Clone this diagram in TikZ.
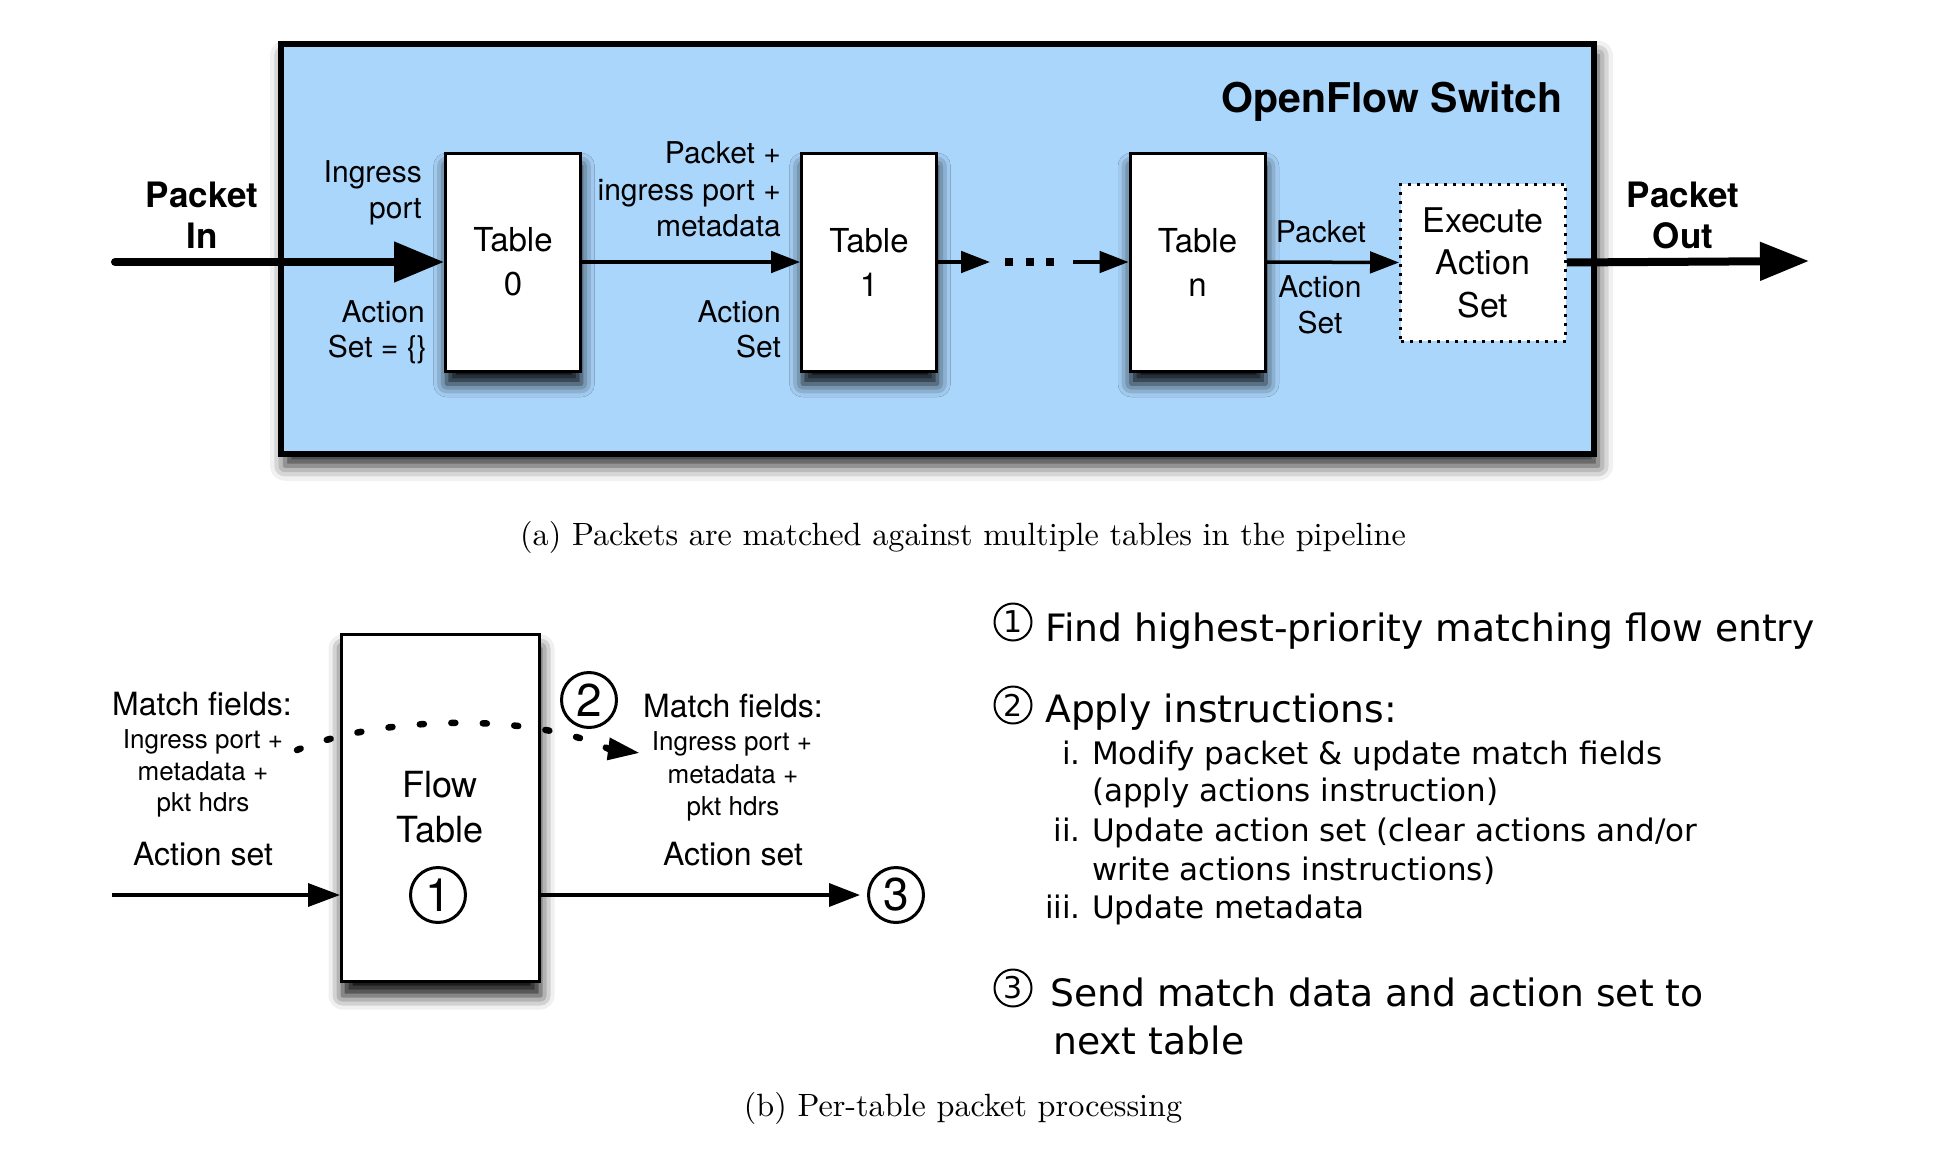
\documentclass[tikz,border=0pt]{standalone}
\usepackage{fontspec}
\usetikzlibrary{arrows.meta,shadows.blur}
\newfontfamily\hvfont{TeX Gyre Heros}
\newfontfamily\dvfont{DejaVu Sans}
\newfontfamily\capfont{lmroman10-regular.otf}
\definecolor{switchblue}{RGB}{170,214,252}
\begin{document}
\begin{tikzpicture}[x=1pt,y=-1pt,
  switchbox/.style={draw, line width=6pt, fill=switchblue, minimum width=1313pt, minimum height=410pt, inner sep=0pt,
    blur shadow={shadow xshift=4pt, shadow yshift=-12pt, shadow blur radius=15pt, shadow opacity=85}},
  tbl/.style={draw, line width=3pt, fill=white, minimum width=135pt, minimum height=218pt, inner sep=0pt, align=center,
    font=\hvfont\fontsize{33}{44}\selectfont,
    blur shadow={shadow xshift=1pt, shadow yshift=-13pt, shadow blur radius=13pt, shadow opacity=95}},
  execbox/.style={draw, line width=3pt, dash pattern=on 3pt off 6pt, fill=white, minimum width=165pt, minimum height=157pt,
    inner sep=0pt, align=center, font=\hvfont\fontsize{34}{42.5}\selectfont},
  lbl/.style={inner sep=0pt, font=\hvfont\fontsize{30}{36}\selectfont},
  blbl/.style={inner sep=0pt, font=\hvfont\bfseries\fontsize{35}{40}\selectfont},
  ttl/.style={inner sep=0pt, font=\hvfont\bfseries\fontsize{41}{48}\selectfont},
  thickarrow/.style={line width=8pt, line cap=round},
  thinarrow/.style={line width=3.5pt, -{Triangle[length=29pt,width=21.5pt]}},
  mflbl/.style={inner sep=0pt, font=\hvfont\fontsize{32}{38}\selectfont},
  smlbl/.style={inner sep=0pt, font=\hvfont\fontsize{26}{32}\selectfont},
  bigc/.style={circle, draw, line width=3pt, minimum size=55pt, inner sep=0pt, font=\hvfont\fontsize{46}{46}\selectfont},
  smc/.style={circle, draw, line width=2pt, minimum size=37pt, inner sep=0pt, font=\dvfont\fontsize{30}{30}\selectfont},
  listbig/.style={inner sep=0pt, anchor=base west, font=\dvfont\fontsize{37.7}{44}\selectfont},
  listsub/.style={inner sep=0pt, font=\dvfont\fontsize{31}{37}\selectfont},
  capt/.style={inner sep=0pt, anchor=base, font=\capfont\fontsize{32.2}{38}\selectfont},
  flowbox/.style={draw, line width=3pt, fill=white, minimum width=198pt, minimum height=347pt, inner sep=0pt,
    blur shadow={shadow xshift=1pt, shadow yshift=-14pt, shadow blur radius=14pt, shadow opacity=95}},
  flowlbl/.style={inner sep=0pt, anchor=base, font=\hvfont\fontsize{36}{44}\selectfont}
]
\useasboundingbox (0,0) rectangle (1948,1148);

% ---------- (a) pipeline ----------
\node[switchbox] (sw) at (937.5,248.75) {};
\node[ttl, anchor=base east] (title) at (1563,112) {OpenFlow Switch};

\node[tbl] (t0) at (513,262) {Table\\0};
\node[tbl] (t1) at (869,262) {Table\\1};
\node[tbl] (tn) at (1197.5,262) {Table\\n};
\node[execbox] (ex) at (1483,262.5) {Execute\\Action\\Set};

\coordinate (pin) at (115,262);
\coordinate (pout) at (1809,261);
\coordinate (e1) at (990,262);
\coordinate (d1) at (1005,262);
\coordinate (d2) at (1054,262);
\coordinate (e2) at (1073,262);

\draw[thickarrow, -{Triangle[length=50pt,width=39pt]}] (pin) -- (t0.west);
\draw[thickarrow, line cap=butt, -{Triangle[length=49pt,width=37pt]}] (ex.east) -- (pout);
\draw[thinarrow] (t0.east) -- (t1.west);
\draw[thinarrow] (t1.east) -- (e1);
\draw[line width=8pt, dash pattern=on 8pt off 12.5pt] (d1) -- (d2);
\draw[thinarrow] (e2) -- (tn.west);
\draw[thinarrow] (tn.east) -- (ex.west);

\node[blbl, anchor=base] (pin1) at (202,207) {Packet};
\node[blbl, anchor=base] (pin2) at (202,248) {In};
\node[blbl, anchor=base] (pout1) at (1683,207) {Packet};
\node[blbl, anchor=base] (pout2) at (1683,248) {Out};

\node[lbl, anchor=base east] (ing1) at (422,182) {Ingress};
\node[lbl, anchor=base east] (ing2) at (422,218) {port};
\node[lbl, anchor=base east] (as1) at (425,322) {Action};
\node[lbl, anchor=base east] (as2) at (427,357) {Set = \{\}};
\node[lbl, anchor=base east] (pk1) at (781,163) {Packet +};
\node[lbl, anchor=base east] (pk2) at (781,200) {ingress port +};
\node[lbl, anchor=base east] (pk3) at (781,236) {metadata};
\node[lbl, anchor=base east] (as3) at (781,322) {Action};
\node[lbl, anchor=base east] (as4) at (781,357) {Set};
\node[lbl, anchor=base] (pk4) at (1321,242) {Packet};
\node[lbl, anchor=base] (as5) at (1320,297) {Action};
\node[lbl, anchor=base] (as6) at (1320,333) {Set};

\node[capt] (capa) at (963,545) {(a)\ Packets are matched against multiple tables in the pipeline};

% ---------- (b) per-table processing ----------
\node[flowbox] (ft) at (440.5,808) {};
\node[flowlbl] (ft1) at (440,797) {Flow};
\node[flowlbl] (ft2) at (440,842) {Table};
\node[bigc] (c1) at (438,895) {1};
\node[bigc] (c2) at (589,700) {2};
\node[bigc] (c3) at (896,895) {3};

\coordinate (ain) at (112,895);
\coordinate (cs) at (297,750);
\coordinate (ce) at (609,749);
\coordinate (ct) at (640,753);
\draw[line width=3.5pt, -{Triangle[length=32pt,width=23pt]}] (ain) -- (ain -| ft.west);
\draw[line width=3.5pt, shorten >=7pt, -{Triangle[length=31pt,width=23pt]}] (ain -| ft.east) -- (c3.west);
\draw[line width=6.5pt, line cap=round, dash pattern=on 4pt off 27.5pt, -{Triangle[length=32pt,width=21pt]}]
  (cs) .. controls (380,716) and (530,712) .. (ce) -- (ct);

\node[mflbl, anchor=base] (mfl) at (202,715) {Match fields:};
\node[smlbl, anchor=base] (l1) at (203,748) {Ingress port +};
\node[smlbl, anchor=base] (l2) at (203,780) {metadata +};
\node[smlbl, anchor=base] (l3) at (203,811) {pkt hdrs};
\node[mflbl, anchor=base] (asl) at (203,865) {Action set};
\node[mflbl, anchor=base] (mfr) at (733,717) {Match fields:};
\node[smlbl, anchor=base] (r1) at (732,750) {Ingress port +};
\node[smlbl, anchor=base] (r2) at (733,783) {metadata +};
\node[smlbl, anchor=base] (r3) at (733,815) {pkt hdrs};
\node[mflbl, anchor=base] (asr) at (733,865) {Action set};

\node[smc] (n1) at (1013,622) {1};
\node[listbig] (t1l) at (1045,641) {Find highest-priority matching flow entry};
\node[smc] (n2) at (1013,705) {2};
\node[listbig] (t2l) at (1045,722) {Apply instructions:};
\node[listsub, anchor=base east] (s1n) at (1081,764) {i.};
\node[listsub, anchor=base west] (s1) at (1092,764) {Modify packet \& update match fields};
\node[listsub, anchor=base west] (s1b) at (1092,801) {(apply actions instruction)};
\node[listsub, anchor=base east] (s2n) at (1081,841) {ii.};
\node[listsub, anchor=base west] (s2) at (1092,841) {Update action set (clear actions and/or};
\node[listsub, anchor=base west] (s2b) at (1092,880) {write actions instructions)};
\node[listsub, anchor=base east] (s3n) at (1081,918) {iii.};
\node[listsub, anchor=base west] (s3) at (1092,918) {Update metadata};
\node[smc] (n3) at (1013,988) {3};
\node[listbig] (t3l) at (1050,1006) {Send match data and action set to};
\node[listbig] (t3b) at (1053,1054) {next table};

\node[capt] (capb) at (963,1116) {(b)\ Per-table packet processing};
\end{tikzpicture}
\end{document}
